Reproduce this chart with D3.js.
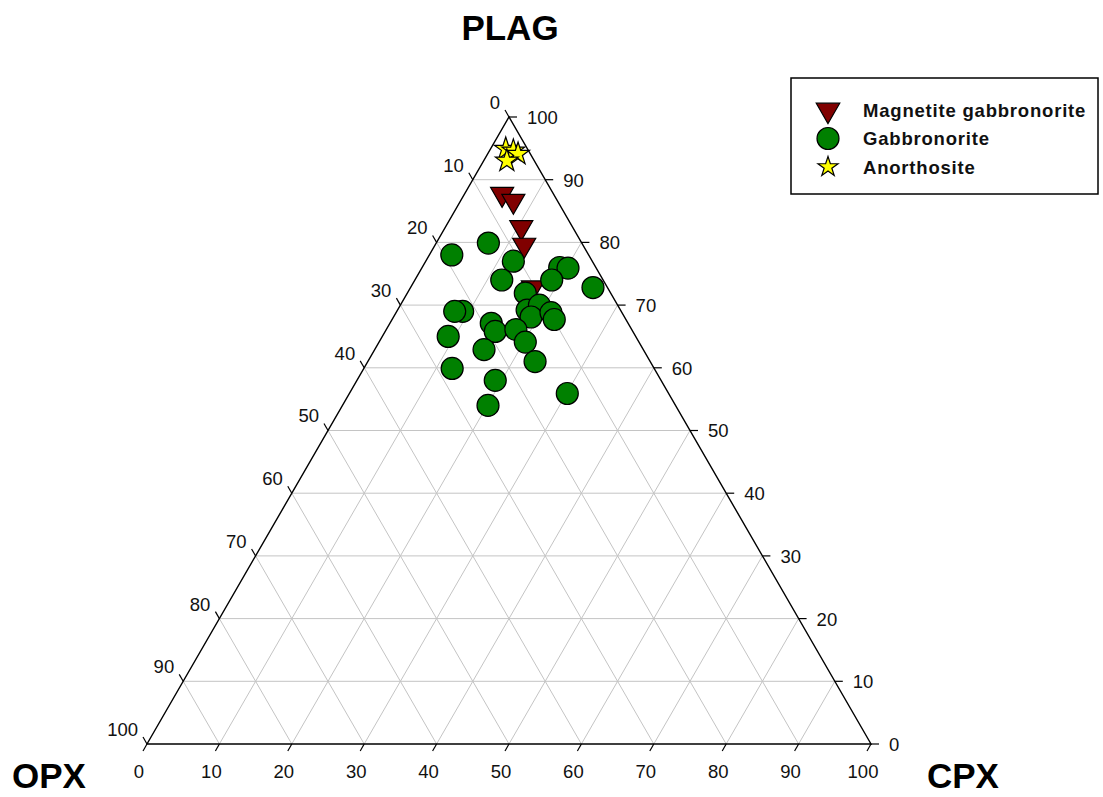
<!DOCTYPE html>
<html>
<head>
<meta charset="utf-8">
<script src="https://cdn.jsdelivr.net/npm/d3@7"></script>
<style>
  html, body { margin: 0; padding: 0; background: #fff; }
  svg { display: block; font-family: "Liberation Sans", Arial, sans-serif; }
</style>
</head>
<body>
<svg id="chart" width="1103" height="797"></svg>
<script>
// Modal compositions (PLAG, CPX, OPX, in %)
const magnetiteGabbronorite = [
  { plag: 87.7, cpx: 5.2, opx: 7.1 },
  { plag: 86.6, cpx: 7.3, opx: 6.1 },
  { plag: 82.4, cpx: 10.5, opx: 7.1 },
  { plag: 79.6, cpx: 12.3, opx: 8.1 },
  { plag: 72.8, cpx: 16.9, opx: 10.3 }
];

const gabbronorite = [
  { plag: 79.9, cpx: 7.2, opx: 12.9 },
  { plag: 78.0, cpx: 3.1, opx: 18.9 },
  { plag: 77.0, cpx: 12.1, opx: 10.9 },
  { plag: 74.0, cpx: 12.0, opx: 14.0 },
  { plag: 76.0, cpx: 19.0, opx: 5.0 },
  { plag: 75.9, cpx: 20.2, opx: 3.9 },
  { plag: 74.0, cpx: 18.9, opx: 7.1 },
  { plag: 72.8, cpx: 25.2, opx: 2.0 },
  { plag: 71.9, cpx: 16.3, opx: 11.8 },
  { plag: 69.2, cpx: 17.9, opx: 12.9 },
  { plag: 70.0, cpx: 19.2, opx: 10.8 },
  { plag: 68.1, cpx: 19.0, opx: 12.9 },
  { plag: 68.8, cpx: 21.4, opx: 9.8 },
  { plag: 67.7, cpx: 22.4, opx: 9.9 },
  { plag: 69.0, cpx: 9.1, opx: 21.9 },
  { plag: 69.0, cpx: 8.0, opx: 23.0 },
  { plag: 67.1, cpx: 14.0, opx: 18.9 },
  { plag: 65.8, cpx: 15.2, opx: 19.0 },
  { plag: 65.0, cpx: 9.1, opx: 25.9 },
  { plag: 62.9, cpx: 15.1, opx: 22.0 },
  { plag: 59.9, cpx: 12.2, opx: 27.9 },
  { plag: 58.0, cpx: 19.1, opx: 22.9 },
  { plag: 54.0, cpx: 20.1, opx: 25.9 },
  { plag: 66.1, cpx: 17.9, opx: 16.0 },
  { plag: 64.1, cpx: 20.2, opx: 15.7 },
  { plag: 61.0, cpx: 23.1, opx: 15.9 },
  { plag: 55.9, cpx: 30.1, opx: 14.0 }
];

const anorthosite = [
  { plag: 94.9, cpx: 2.1, opx: 3.0 },
  { plag: 94.6, cpx: 3.3, opx: 2.1 },
  { plag: 94.1, cpx: 4.2, opx: 1.7 },
  { plag: 93.0, cpx: 3.2, opx: 3.8 }
];

const tickValues = [0, 10, 20, 30, 40, 50, 60, 70, 80, 90, 100];
const gridValues = [10, 20, 30, 40, 50, 60, 70, 80, 90];

const legendItems = [
  { label: "Magnetite gabbronorite", kind: "triangle" },
  { label: "Gabbronorite", kind: "circle" },
  { label: "Anorthosite", kind: "star" }
];

const svg = d3.select("#chart");

// Triangle frame: OPX bottom-left, CPX bottom-right, PLAG top
const left = 147, right = 871, base = 744;
const apex = base - (right - left) * Math.sqrt(3) / 2;
const sx = d3.scaleLinear().domain([0, 100]).range([left, right]);
const sy = d3.scaleLinear().domain([0, 100]).range([base, apex]);

// Ternary projection from (plag, cpx) percentages
function proj(plag, cpx) {
  return [sx(cpx + plag / 2), sy(plag)];
}

const gridColor = "#c4c4c4";
const grid = svg.append("g").attr("stroke", gridColor).attr("stroke-width", 1).attr("fill", "none");

gridValues.forEach(v => {
  // constant PLAG (horizontal)
  let a = proj(v, 0), b = proj(v, 100 - v);
  grid.append("line").attr("x1", a[0]).attr("y1", a[1]).attr("x2", b[0]).attr("y2", b[1]);
  // constant CPX (parallel to left edge)
  a = proj(0, v); b = proj(100 - v, v);
  grid.append("line").attr("x1", a[0]).attr("y1", a[1]).attr("x2", b[0]).attr("y2", b[1]);
  // constant OPX (parallel to right edge)
  a = proj(0, 100 - v); b = proj(100 - v, 0);
  grid.append("line").attr("x1", a[0]).attr("y1", a[1]).attr("x2", b[0]).attr("y2", b[1]);
});

// Frame
const vA = proj(0, 0), vB = proj(0, 100), vC = proj(100, 0);
svg.append("path")
  .attr("d", `M${vA[0]},${vA[1]}L${vB[0]},${vB[1]}L${vC[0]},${vC[1]}Z`)
  .attr("fill", "none").attr("stroke", "#000").attr("stroke-width", 1.4);

// Ticks and labels
const tickLen = 8;
const c60 = 0.5, s60 = Math.sqrt(3) / 2;
const axes = svg.append("g").attr("font-size", 18.5).attr("fill", "#111");
tickValues.forEach(v => {
  // bottom axis: CPX, 0 at left
  let p = proj(0, v);
  axes.append("line").attr("x1", p[0]).attr("y1", p[1])
    .attr("x2", p[0] - tickLen * c60).attr("y2", p[1] + tickLen * s60)
    .attr("stroke", "#000").attr("stroke-width", 1.2);
  axes.append("text").attr("x", p[0] - 8).attr("y", p[1] + 34)
    .attr("text-anchor", "middle").text(v);

  // right axis: PLAG, 0 at bottom
  p = proj(v, 100 - v);
  axes.append("line").attr("x1", p[0]).attr("y1", p[1])
    .attr("x2", p[0] + tickLen).attr("y2", p[1])
    .attr("stroke", "#000").attr("stroke-width", 1.2);
  axes.append("text").attr("x", p[0] + 18).attr("y", p[1] + 7)
    .attr("text-anchor", "start").text(v);

  // left axis: OPX, 0 at top
  p = proj(100 - v, 0);
  axes.append("line").attr("x1", p[0]).attr("y1", p[1])
    .attr("x2", p[0] - tickLen * c60).attr("y2", p[1] - tickLen * s60)
    .attr("stroke", "#000").attr("stroke-width", 1.2);
  axes.append("text").attr("x", p[0] - 9).attr("y", p[1] - 8)
    .attr("text-anchor", "end").text(v);
});

// Apex titles
const titles = svg.append("g").attr("font-weight", "bold").attr("fill", "#000");
titles.append("text").attr("x", 510).attr("y", 40).attr("font-size", 35)
  .attr("text-anchor", "middle").text("PLAG");
titles.append("text").attr("x", 12).attr("y", 788).attr("font-size", 35)
  .attr("text-anchor", "start").text("OPX");
titles.append("text").attr("x", 927).attr("y", 788).attr("font-size", 35)
  .attr("text-anchor", "start").text("CPX");

// Symbols
const triSym = d3.symbol().type(d3.symbolTriangle).size(230);
const starSym = d3.symbol().type(d3.symbolStar).size(160);
const triColor = "#800000", circColor = "#008000", starColor = "#ffff00";

const pts = svg.append("g").attr("stroke", "#000").attr("stroke-width", 1.2);

pts.selectAll("path.tri").data(magnetiteGabbronorite).join("path")
  .attr("class", "tri")
  .attr("d", triSym)
  .attr("transform", d => { const p = proj(d.plag, d.cpx); return `translate(${p[0]},${p[1]}) rotate(180)`; })
  .attr("fill", triColor);

pts.selectAll("circle.gab").data(gabbronorite).join("circle")
  .attr("class", "gab")
  .attr("cx", d => proj(d.plag, d.cpx)[0])
  .attr("cy", d => proj(d.plag, d.cpx)[1])
  .attr("r", 11)
  .attr("fill", circColor);

pts.selectAll("path.star").data(anorthosite).join("path")
  .attr("class", "star")
  .attr("d", starSym)
  .attr("transform", d => { const p = proj(d.plag, d.cpx); return `translate(${p[0]},${p[1]})`; })
  .attr("fill", starColor);

// Legend
const legend = svg.append("g");
legend.append("rect").attr("x", 791).attr("y", 78).attr("width", 307).attr("height", 116)
  .attr("fill", "#fff").attr("stroke", "#000").attr("stroke-width", 1.5);
legendItems.forEach((item, i) => {
  const cy = 110 + i * 28.5, cx = 828;
  let m;
  if (item.kind === "triangle") {
    m = legend.append("path").attr("d", d3.symbol().type(d3.symbolTriangle).size(240)())
      .attr("transform", `translate(${cx},${cy}) rotate(180)`).attr("fill", triColor);
  } else if (item.kind === "circle") {
    m = legend.append("circle").attr("cx", cx).attr("cy", cy).attr("r", 11).attr("fill", circColor);
  } else {
    m = legend.append("path").attr("d", d3.symbol().type(d3.symbolStar).size(125)())
      .attr("transform", `translate(${cx},${cy})`).attr("fill", starColor);
  }
  m.attr("stroke", "#000").attr("stroke-width", 1.2);
  legend.append("text").attr("x", 863).attr("y", cy + 6.5)
    .attr("font-size", 18.5).attr("font-weight", "bold").attr("fill", "#111")
    .attr("letter-spacing", 0.8)
    .text(item.label);
});
</script>
</body>
</html>
